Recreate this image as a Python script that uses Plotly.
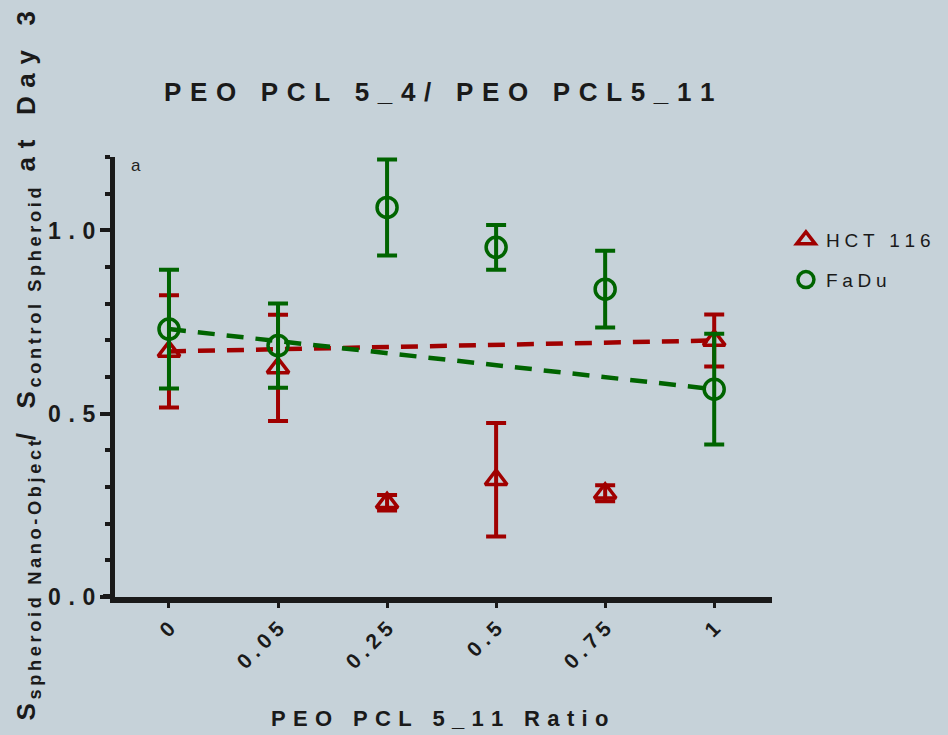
import plotly.graph_objects as go

# ---------------- data ----------------
categories = ["0", "0.05", "0.25", "0.5", "0.75", "1"]
hct_mean = [0.67, 0.625, 0.257, 0.32, 0.283, 0.70]
hct_err = [0.153, 0.145, 0.021, 0.155, 0.022, 0.071]
fadu_mean = [0.731, 0.686, 1.063, 0.954, 0.84, 0.567]
fadu_err = [0.162, 0.115, 0.131, 0.061, 0.105, 0.151]
# dashed trend lines: value at first and last ratio
hct_trend = [0.67, 0.70]
fadu_trend = [0.731, 0.567]
y_tick_vals = [0, 0.5, 1.0]
y_tick_text = ["0.0", "0.5", "1.0"]

title_text = "PEO PCL 5_4/ PEO PCL5_11"
x_title = "PEO PCL 5_11 Ratio"

# ---------------- style ----------------
RED = "#a00000"
GREEN = "#006400"
BG = "#c6d2d9"
INK = "#1a1a1a"
FONT = "Liberation Sans, Arial, sans-serif"
WIDE = "\u2004"
MID = "\u2005"
THIN = "\u2009"


def sp(s, sep=WIDE):
    return sep.join(s)


fig = go.Figure()

trend_x = [categories[0], categories[-1]]
fig.add_trace(go.Scatter(x=trend_x, y=hct_trend, mode="lines",
                         line=dict(color=RED, width=4.5, dash="17px,12px"),
                         showlegend=False, hoverinfo="skip"))
fig.add_trace(go.Scatter(x=trend_x, y=fadu_trend, mode="lines",
                         line=dict(color=GREEN, width=4.5, dash="17px,12px"),
                         showlegend=False, hoverinfo="skip"))

fig.add_trace(go.Scatter(
    x=categories, y=hct_mean, mode="markers", name=sp("HCT 116", MID),
    legendgroup="a",
    marker=dict(symbol="triangle-up-open", size=19, color=RED,
                line=dict(color=RED, width=3.5)),
    error_y=dict(type="data", array=hct_err, visible=True, color=RED,
                 thickness=4, width=10)))
fig.add_trace(go.Scatter(
    x=categories, y=fadu_mean, mode="markers", name=sp("FaDu", MID),
    legendgroup="b",
    marker=dict(symbol="circle-open", size=20, color=GREEN,
                line=dict(color=GREEN, width=3.5)),
    error_y=dict(type="data", array=fadu_err, visible=True, color=GREEN,
                 thickness=4, width=10)))

L, R, T, B = 115, 173, 157, 138
W, H = 948, 735
pw, ph = W - L - R, H - T - B


def px_x(px):
    return (px - L) / pw


def px_y(py):
    return (H - B - py) / ph


fig.update_layout(
    width=W, height=H,
    margin=dict(l=L, r=R, t=T, b=B, pad=0),
    paper_bgcolor=BG, plot_bgcolor=BG,
    font=dict(family=FONT, color=INK),
    showlegend=True,
    legend=dict(x=px_x(789), y=px_y(221), xanchor="left", yanchor="top",
                bgcolor="rgba(0,0,0,0)", font=dict(size=19, color=INK),
                traceorder="grouped", tracegroupgap=12, itemsizing="trace"),
    xaxis=dict(type="category", categoryorder="array",
               categoryarray=categories, range=[-0.495, 5.53],
               showline=True, linewidth=6, linecolor=INK,
               ticks="outside", ticklen=5, tickwidth=3, tickcolor=INK,
               tickangle=-45, showgrid=False, zeroline=False,
               tickvals=categories,
               ticktext=["<b>" + sp(c, MID) + "</b>" for c in categories],
               tickfont=dict(size=21, color=INK, family=FONT)),
    yaxis=dict(range=[0, 1.2005], showline=True, linewidth=5, linecolor=INK,
               ticks="outside", ticklen=10, tickwidth=4, tickcolor=INK,
               tickmode="array", tickvals=y_tick_vals,
               ticktext=["<b>" + sp(t) + "</b>" for t in y_tick_text],
               tickfont=dict(size=23, color=INK, family=FONT),
               showgrid=False, zeroline=False,
               minor=dict(tickmode="linear", tick0=0, dtick=0.1,
                          ticks="outside", ticklen=5, tickwidth=4,
                          tickcolor=INK, showgrid=False)),
)

# extension of x axis line to the left of the y axis
fig.add_shape(type="line", xref="paper", yref="y", x0=px_x(103), x1=0,
              y0=0, y1=0, line=dict(color=INK, width=6), layer="above")

fig.add_annotation(text="<b>" + sp(title_text) + "</b>", xref="paper",
                   yref="paper", x=px_x(441), y=px_y(92), showarrow=False,
                   xanchor="center", yanchor="middle",
                   font=dict(size=26, color=INK, family=FONT))
fig.add_annotation(text="<b>" + sp(x_title) + "</b>", xref="paper",
                   yref="paper", x=px_x(441), y=px_y(718), showarrow=False,
                   xanchor="center", yanchor="middle",
                   font=dict(size=22, color=INK, family=FONT))
fig.add_annotation(text="a", xref="paper", yref="paper", x=px_x(129),
                   y=px_y(165), showarrow=False, xanchor="left",
                   yanchor="middle", font=dict(size=17, color="#222222",
                                               family=FONT))

ylab = ("<b>" + sp("S") + "</b><sub><b>" + THIN + sp("spheroid Nano-Object", THIN)
        + "</b></sub><b>" + sp("/ S") + "</b><sub><b>" + THIN
        + sp("control Spheroid", THIN) + "</b></sub><b>" + sp(" at Day 3")
        + "</b>")
fig.add_annotation(text=ylab, xref="paper", yref="paper", x=px_x(27),
                   y=px_y(366), showarrow=False, textangle=-90,
                   xanchor="center", yanchor="middle",
                   font=dict(size=26, color=INK, family=FONT))

fig.write_html("out.html", config={"displayModeBar": False},
               post_script=["document.body.style.margin='0';"
                            "document.body.style.overflow='hidden';"])
